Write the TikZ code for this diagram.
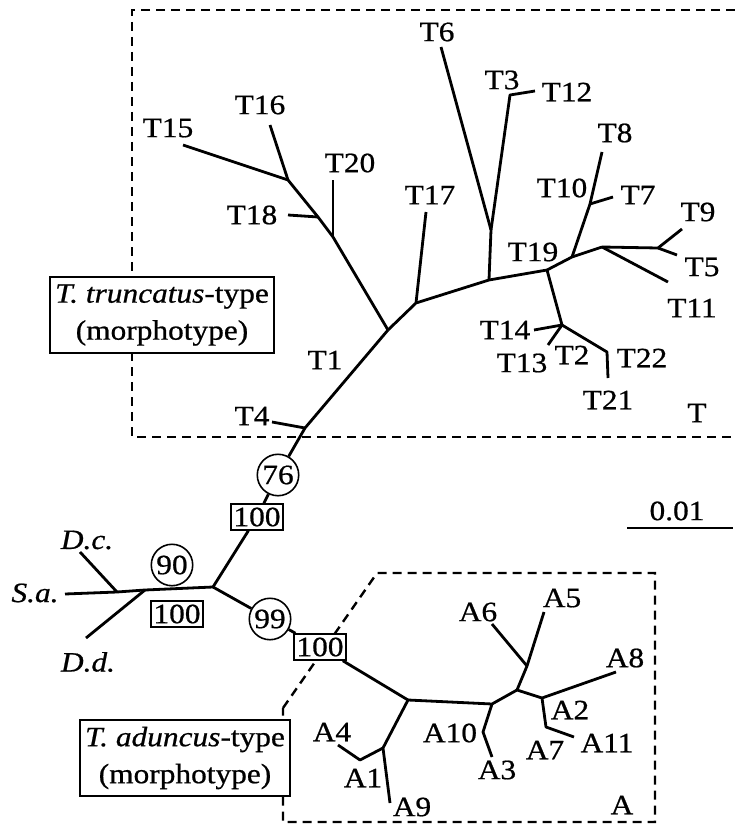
\documentclass[tikz,border=0pt]{standalone}
\usepackage{fontspec}
\setmainfont{Liberation Serif}[FakeStretch=1.12, FakeBold=0.7]

\tikzset{
    branch/.style={line width=2.8pt, line join=round},
    region/.style={line width=2.4pt, dash pattern=on 9pt off 6pt},
    boot/.style={circle, draw, line width=1.6pt, fill=white, inner sep=1.8pt},
    jack/.style={rectangle, draw, line width=1.6pt, fill=white, inner xsep=2.5pt, inner ysep=3.5pt},
    typebox/.style={rectangle, draw, line width=2pt, fill=white, align=center, inner xsep=5pt, inner ysep=7pt,
        font=\fontsize{28}{37}\selectfont}
}

\begin{document}
\begin{tikzpicture}[x=1pt, y=-1pt, every node/.style={font=\fontsize{28}{32}\selectfont}]
    \useasboundingbox (0,0) rectangle (735,824);

    % dashed regions
    \draw[region] (735,10) -- (132,10) -- (132,437) -- (735,437);
    \draw[region] (283,708) -- (377,573) -- (655,573) -- (655,822) -- (283,822) -- cycle;

    \node[typebox] (truncbox) at (162,315) {\textit{T. truncatus}-type\\(morphotype)};
    \node[typebox] (adunbox) at (185,758) {\textit{T. aduncus}-type\\(morphotype)};

    % outgroups
    \coordinate (Sa) at (65,594);
    \coordinate (Dcj) at (117,592);
    \coordinate (Dc) at (80,552);
    \coordinate (Ddj) at (145,590);
    \coordinate (Dd) at (86,638);
    \coordinate (J0) at (213,587);
    \draw[branch] (Sa) -- (Dcj) -- (Ddj) -- (J0);
    \draw[branch] (Dc) -- (Dcj);
    \draw[branch] (Dd) -- (Ddj);
    \node (lSa) at (35,593) {\textit{S.a.}};
    \node (lDc) at (87,540) {\textit{D.c.}};
    \node (lDd) at (88,662) {\textit{D.d.}};
    \node[boot] (b90) at (172,565) {90};
    \node[jack] (j100o) at (177,614) {100};

    % T trunk
    \coordinate (T4j) at (305,428);
    \coordinate (T4) at (272,422);
    \coordinate (J1) at (388,330);
    \node[jack] (j100t) at (257,517) {100};
    \node[boot] (b76) at (278,475) {76};
    \draw[branch] (J0) -- (j100t) -- (b76) -- (T4j) -- (J1);
    \draw[branch] (T4) -- (T4j);

    % T15 group
    \coordinate (T20j) at (333,237);
    \coordinate (T20) at (333,180);
    \coordinate (T18j) at (318,217);
    \coordinate (T18) at (288,215);
    \coordinate (T15j) at (288,180);
    \coordinate (T15) at (183,145);
    \coordinate (T16) at (270,125);
    \draw[branch] (J1) -- (T20j) -- (T18j) -- (T15j) -- (T15);
    \draw[branch] (T20j) -- (T20);
    \draw[branch] (T18j) -- (T18);
    \draw[branch] (T15j) -- (T16);

    % arc to the right
    \coordinate (T17j) at (416,303);
    \coordinate (T17) at (426,212);
    \coordinate (J2) at (489,280);
    \coordinate (T19j) at (547,270);
    \coordinate (J3) at (572,257);
    \coordinate (J4) at (602,247);
    \draw[branch] (J1) -- (T17j) -- (J2) -- (T19j) -- (J3) -- (J4);
    \draw[branch] (T17j) -- (T17);

    \coordinate (T6j) at (491,230);
    \coordinate (T6) at (441,47);
    \coordinate (T3b) at (510,95);
    \coordinate (T12) at (535,91);
    \draw[branch] (J2) -- (T6j) -- (T6);
    \draw[branch] (T6j) -- (T3b) -- (T12);

    \coordinate (T2j) at (562,325);
    \coordinate (T14) at (534,330);
    \coordinate (T13) at (548,345);
    \coordinate (T22b) at (607,352);
    \coordinate (T21) at (608,378);
    \draw[branch] (T19j) -- (T2j) -- (T14);
    \draw[branch] (T2j) -- (T13);
    \draw[branch] (T2j) -- (T22b) -- (T21);

    \coordinate (T7j) at (590,204);
    \coordinate (T8) at (602,152);
    \coordinate (T7) at (613,197);
    \draw[branch] (J3) -- (T7j) -- (T8);
    \draw[branch] (T7j) -- (T7);

    \coordinate (T9j) at (658,248);
    \coordinate (T9) at (682,229);
    \coordinate (T5) at (677,255);
    \coordinate (T11) at (668,282);
    \draw[branch] (J4) -- (T9j) -- (T9);
    \draw[branch] (T9j) -- (T5);
    \draw[branch] (J4) -- (T11);

    \node (lT15) at (168,128) {T15};
    \node (lT16) at (260,105) {T16};
    \node (lT20) at (350,163) {T20};
    \node (lT18) at (252,215) {T18};
    \node (lT17) at (430,195) {T17};
    \node (lT6) at (437,32) {T6};
    \node (lT3) at (502,80) {T3};
    \node (lT12) at (567,92) {T12};
    \node (lT8) at (615,133) {T8};
    \node (lT10) at (562,188) {T10};
    \node (lT7) at (638,195) {T7};
    \node (lT9) at (698,212) {T9};
    \node (lT5) at (702,267) {T5};
    \node (lT11) at (692,308) {T11};
    \node (lT19) at (533,252) {T19};
    \node (lT1) at (325,360) {T1};
    \node (lT4) at (252,416) {T4};
    \node (lT14) at (505,330) {T14};
    \node (lT13) at (522,363) {T13};
    \node (lT2) at (572,355) {T2};
    \node (lT22) at (642,358) {T22};
    \node (lT21) at (608,400) {T21};
    \node (lT) at (697,413) {T};

    % scale bar
    \coordinate (sbl) at (627,528);
    \coordinate (sbr) at (733,528);
    \draw[line width=1.8pt] (sbl) -- (sbr);
    \node (lscale) at (677,511) {0.01};

    % A group
    \coordinate (Aj) at (408,700);
    \node[boot] (b99) at (270,619) {99};
    \node[jack] (j100a) at (320,647) {100};
    \draw[branch] (J0) -- (b99) -- (j100a) -- (Aj);

    \coordinate (A9j) at (383,748);
    \coordinate (A9) at (390,803);
    \coordinate (A1b) at (360,760);
    \coordinate (A4) at (338,745);
    \draw[branch] (Aj) -- (A9j) -- (A9);
    \draw[branch] (A9j) -- (A1b) -- (A4);

    \coordinate (A10j) at (492,704);
    \coordinate (A3b) at (483,732);
    \coordinate (A3) at (492,757);
    \coordinate (A5j) at (517,690);
    \coordinate (A56j) at (527,666);
    \coordinate (A6) at (492,624);
    \coordinate (A5) at (544,612);
    \coordinate (A8j) at (542,698);
    \coordinate (A8) at (616,672);
    \coordinate (A7b) at (546,727);
    \coordinate (A11) at (574,737);
    \draw[branch] (Aj) -- (A10j) -- (A5j) -- (A8j) -- (A8);
    \draw[branch] (A10j) -- (A3b) -- (A3);
    \draw[branch] (A5j) -- (A56j) -- (A5);
    \draw[branch] (A56j) -- (A6);
    \draw[branch] (A8j) -- (A7b) -- (A11);

    \node (lA4) at (332,732) {A4};
    \node (lA1) at (363,778) {A1};
    \node (lA9) at (412,807) {A9};
    \node (lA10) at (450,733) {A10};
    \node (lA3) at (497,770) {A3};
    \node (lA6) at (478,612) {A6};
    \node (lA5) at (562,598) {A5};
    \node (lA8) at (625,658) {A8};
    \node (lA2) at (570,710) {A2};
    \node (lA7) at (545,750) {A7};
    \node (lA11) at (607,743) {A11};
    \node (lA) at (622,805) {A};
\end{tikzpicture}
\end{document}
